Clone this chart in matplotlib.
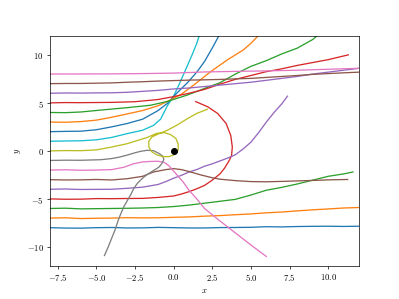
import numpy as np
import matplotlib
matplotlib.use("Agg")
import matplotlib.pyplot as plt

plt.rcParams['mathtext.fontset'] = 'cm'
plt.rcParams['font.family'] = 'serif'
plt.rcParams['font.serif'] = ['cmr10']
plt.rcParams['axes.formatter.use_mathtext'] = True

# trajectories, ordered by starting height y0 = -8 ... 8
paths = [
    # y0 = -8
    ([-8, -7, -6, -5, -4, -3, -2, -1, 0, 1, 2, 3, 4, 5, 6, 7, 8, 9, 10, 11, 12],
     [-8.0, -8.04, -8.05, -8.0, -7.98, -8.03, -8.02, -7.97, -8.0, -8.03, -8.03, -7.99, -7.98, -7.96, -7.9, -7.92, -7.88, -7.86, -7.85, -7.87, -7.85]),
    # y0 = -7
    ([-8, -7, -6, -5, -4, -3, -2, -1, 0, 1, 2, 3, 4, 5, 6, 7, 8, 9, 10, 11, 12],
     [-7.0, -6.97, -7.05, -7.02, -7.0, -6.96, -6.98, -6.97, -6.92, -6.88, -6.8, -6.74, -6.65, -6.57, -6.45, -6.37, -6.25, -6.14, -6.05, -5.95, -5.9]),
    # y0 = -6
    ([-8, -7, -6, -5, -4, -3, -2, -1, 0, 1, 2, 3, 4, 5, 6, 7, 8, 9, 10, 11, 11.6],
     [-6.0, -5.97, -6.04, -6.02, -6.0, -5.98, -5.95, -5.9, -5.8, -5.65, -5.45, -5.25, -5.05, -4.6, -4.1, -3.8, -3.45, -3.05, -2.65, -2.4, -2.2]),
    # y0 = -5
    ([-8, -7, -6, -5, -4, -3, -2, -1, 0, 0.5, 1, 1.5, 2, 2.5, 3, 3.3, 3.6, 3.75, 3.8, 3.7, 3.4, 2.85, 2.2, 1.43],
     [-5.0, -5.04, -5.03, -4.97, -4.98, -4.96, -4.95, -4.85, -4.7, -4.5, -4.25, -3.95, -3.6, -3.05, -2.4, -1.8, -1.0, -0.5, 0.4, 1.6, 2.85, 3.9, 4.6, 5.13]),
    # y0 = -4
    ([-8, -7, -6, -5, -4, -3, -2, -1, -0.5, 0, 0.5, 1, 1.5, 2, 2.5, 3, 3.5, 4, 4.5, 5, 5.5, 6, 6.5, 7, 7.37],
     [-4.0, -3.97, -4.02, -4.01, -4.0, -3.9, -3.78, -3.5, -3.2, -2.85, -2.55, -2.2, -1.95, -1.6, -1.35, -1.05, -0.75, -0.4, 0.2, 0.9, 1.9, 3.0, 4.0, 4.9, 5.7]),
    # y0 = -3
    ([-8, -7, -6, -5, -4, -3, -2, -1.3, -0.5, 0, 0.5, 1, 1.75, 2.5, 3, 4, 5, 6, 7, 8, 9, 10, 11.26],
     [-3.0, -3.03, -3.02, -2.98, -3.03, -2.9, -2.65, -2.2, -1.95, -1.85, -1.95, -2.15, -2.5, -2.8, -2.95, -3.1, -3.2, -3.22, -3.18, -3.13, -3.08, -3.02, -2.98]),
    # y0 = -2
    ([-8, -7, -6, -5, -4, -3.2, -2.6, -2, -1.5, -1, -0.6, -0.3, 0, 0.3, 0.6, 1, 1.5, 2, 3, 4, 5, 6],
     [-2.0, -1.97, -2.02, -2.0, -1.95, -1.7, -1.35, -1.15, -1.1, -1.08, -1.2, -1.55, -2.1, -2.65, -3.2, -4.1, -5.0, -6.0, -7.3, -8.55, -9.8, -11.0]),
    # y0 = -1
    ([-8, -7, -6, -4.7, -4, -3.5, -3, -2.5, -2.14, -1.7, -1.3, -0.95, -0.7, -0.63, -0.75, -0.95, -1.3, -1.6, -1.9,
      -2.14, -2.35, -2.57, -2.75, -3.0, -3.22, -3.45, -3.55, -3.65, -3.8, -3.97, -4.2, -4.47],
     [-1.0, -0.97, -0.98, -0.92, -0.8, -0.65, -0.44, -0.2, -0.05, 0.06, 0.02, -0.26, -0.55, -0.9, -1.3, -1.7, -2.05, -2.35, -2.7,
      -3.05, -3.4, -3.9, -4.5, -5.2, -5.83, -6.7, -7.1, -7.57, -8.3, -8.97, -9.9, -10.9]),
    # y0 = 0
    ([-8, -7, -6, -5, -4, -3, -2.3, -1.7, -1.1, -0.6, -0.2, 0.15, 0.3, 0.3, 0.05, -0.3, -0.7, -1.1, -1.4, -1.6, -1.6,
      -1.4, -1.0, -0.4, 0.24, 0.89, 1.5, 2.18],
     [0.0, 0.03, 0.02, 0.1, 0.4, 0.75, 1.1, 1.4, 1.82, 1.9, 1.7, 1.3, 0.7, 0.1, -0.4, -0.6, -0.6, -0.4, -0.1, 0.4, 1.0,
      1.45, 1.75, 2.15, 2.7, 3.35, 3.9, 4.33]),
    # y0 = 1
    ([-8, -7, -6, -5, -4, -3, -2, -1.3, -0.84, -0.4, 0.0, 0.3, 0.6, 0.9, 1.2, 1.5, 1.7],
     [1.0, 1.03, 1.05, 1.15, 1.4, 1.8, 2.15, 2.65, 3.3, 4.7, 5.7, 6.7, 7.8, 8.9, 10.0, 11.2, 12.2]),
    # y0 = 2
    ([-8, -7, -6, -5, -4, -3, -2, -1, -0.4, 0.2, 0.9, 1.5, 2.0, 2.5, 3.0],
     [2.0, 2.03, 2.05, 2.2, 2.5, 2.85, 3.3, 4.2, 4.95, 6.0, 7.1, 8.2, 9.3, 10.7, 12.2]),
    # y0 = 3
    ([-8, -7, -6, -5, -4, -3, -2, -1, -0.2, 0.5, 1.3, 2.4, 3.5, 4.5, 5.0, 5.6],
     [3.0, 2.98, 3.05, 3.2, 3.5, 3.85, 4.2, 4.7, 5.3, 5.9, 6.85, 8.25, 9.5, 10.5, 11.2, 12.2]),
    # y0 = 4
    ([-8, -7, -6, -4.7, -3, -1.5, -0.4, 0.9, 2, 3, 4, 5, 6, 7, 8, 9, 9.5],
     [4.0, 3.98, 4.05, 4.25, 4.5, 4.75, 5.15, 5.82, 6.5, 7.1, 8.0, 8.8, 9.4, 10.1, 10.7, 11.6, 12.3]),
    # y0 = 5
    ([-8, -7, -6, -4, -2.5, -1, 0, 1, 2, 3, 4, 5, 6, 7, 8, 9, 10, 11.3],
     [5.0, 5.03, 5.02, 5.05, 5.12, 5.35, 5.65, 6.0, 6.4, 6.95, 7.45, 7.85, 8.25, 8.55, 8.9, 9.2, 9.5, 10.0]),
    # y0 = 6
    ([-8, -7, -6, -5, -4, -3, -2, -1, 0, 1, 2, 3, 4, 5, 6, 7, 8, 9, 10, 11, 12],
     [6.0, 6.03, 6.02, 6.04, 6.05, 6.1, 6.2, 6.3, 6.45, 6.55, 6.7, 6.85, 7.0, 7.15, 7.35, 7.55, 7.75, 8.0, 8.2, 8.4, 8.6]),
    # y0 = 7
    ([-8, -7, -6, -5, -4, -3, -2, -1, 0, 1, 2, 3, 4, 5, 6, 7, 8, 9, 10, 11, 12],
     [7.0, 7.02, 7.02, 7.05, 7.08, 7.15, 7.2, 7.27, 7.32, 7.37, 7.4, 7.44, 7.5, 7.55, 7.65, 7.75, 7.85, 7.97, 8.05, 8.13, 8.2]),
    # y0 = 8
    ([-8, -6, -4, -2, 0, 2, 4, 6, 8, 10, 12],
     [8.0, 8.01, 8.02, 8.05, 8.1, 8.22, 8.28, 8.33, 8.4, 8.5, 8.6]),
]

fig = plt.figure(figsize=(6.4, 4.8), dpi=399/6.4)
ax = fig.add_subplot(111)
for xs, ys in paths:
    ax.plot(xs, ys)
ax.plot([0], [0], 'ko', markersize=7)

ax.set_xlim(-8, 12)
ax.set_ylim(-12, 12)
ax.set_xlabel(r'$x$')
ax.set_ylabel(r'$y$')

plt.savefig('out.png', dpi=399/6.4)
